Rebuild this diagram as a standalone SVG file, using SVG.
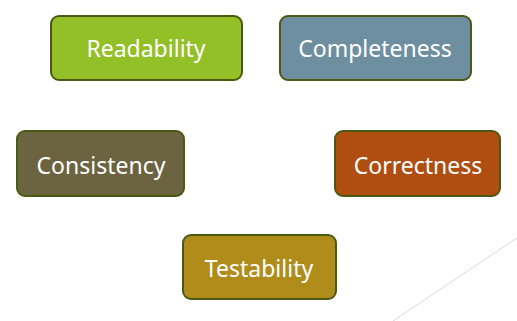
<svg xmlns="http://www.w3.org/2000/svg" width="517" height="321" viewBox="0 0 517 321">
  <style>
    .box { stroke: #4b5a12; stroke-width: 2; }
    .label { font-family: "Noto Sans", "DejaVu Sans", sans-serif; font-size: 23px; fill: #ffffff; text-anchor: middle; }
  </style>
  <rect width="517" height="321" fill="#ffffff"/>
  <!-- decorative corner line -->
  <line x1="393" y1="321" x2="517" y2="238" stroke="#d9d9d9" stroke-width="1"/>
  <g id="connectors"/>
  <g id="readability">
    <rect class="box" x="51" y="16" width="191" height="64" rx="8" fill="#93c027"/>
    <text class="label" x="146" y="57">Readability</text>
  </g>
  <g id="completeness">
    <rect class="box" x="280" y="16" width="191" height="64" rx="8" fill="#6e8f9f"/>
    <text class="label" x="375" y="57">Completeness</text>
  </g>
  <g id="consistency">
    <rect class="box" x="17" y="131" width="167" height="65" rx="8" fill="#6c6340"/>
    <text class="label" x="101" y="174">Consistency</text>
  </g>
  <g id="correctness">
    <rect class="box" x="335" y="131" width="165" height="65" rx="8" fill="#b04e12"/>
    <text class="label" x="418" y="174">Correctness</text>
  </g>
  <g id="testability">
    <rect class="box" x="183" y="235" width="153" height="64" rx="8" fill="#b08c1a"/>
    <text class="label" x="259" y="277">Testability</text>
  </g>
</svg>
